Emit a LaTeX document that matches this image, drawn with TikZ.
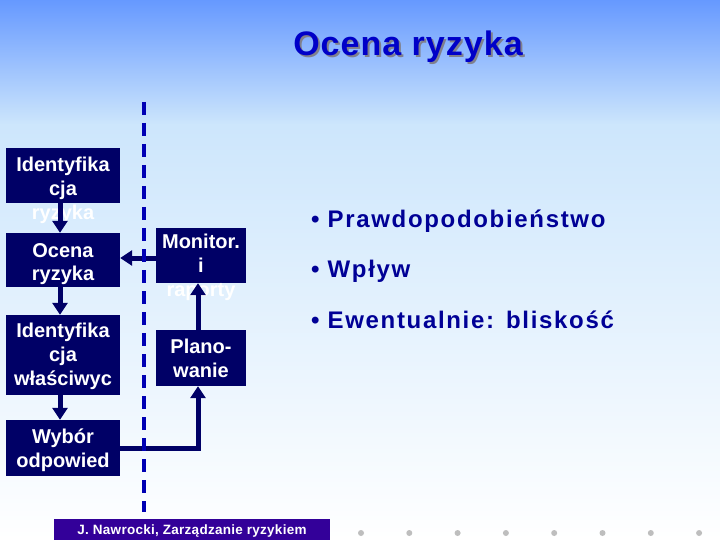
\documentclass[tikz,border=0pt]{standalone}
\usepackage{fontspec}
\setmainfont{Liberation Sans}
\newfontfamily\spacedfont[LetterSpace=7]{Liberation Sans}
\newfontfamily\titlefont[LetterSpace=3]{Liberation Sans}
\newfontfamily\footfont[LetterSpace=2]{Liberation Sans}
\usetikzlibrary{arrows.meta}
\definecolor{navybox}{RGB}{0,0,102}
\definecolor{dashblue}{RGB}{0,0,180}
\definecolor{titleblue}{RGB}{0,0,200}
\definecolor{bullblue}{RGB}{0,0,150}
\definecolor{footcol}{RGB}{51,0,153}
\definecolor{bgtop}{RGB}{102,153,255}
\definecolor{bgmid}{RGB}{205,230,252}
\definecolor{dotgray}{RGB}{190,190,190}
\definecolor{shadowgray}{RGB}{128,128,140}
\begin{document}
\begin{tikzpicture}[x=1pt,y=-1pt,
  box/.style={fill=navybox, draw=none, inner sep=0pt},
  boxtext/.style={text=white, font=\bfseries\fontsize{20}{24}\selectfont, align=center, text width=#1, inner sep=0pt, anchor=base},
  boxtext/.default=114pt,
  arr/.style={draw=navybox, line width=5pt, -{Triangle[length=12pt,width=15pt]}},
  dashline/.style={draw=dashblue, line width=4pt, dash pattern=on 13pt off 8pt}]
\useasboundingbox (0,0) rectangle (720,540);
% background
\shade[top color=bgtop, bottom color=bgmid] (0,0) rectangle (720,125);
\shade[top color=bgmid, bottom color=white] (0,125) rectangle (720,540);
% title (with drop shadow)
\node[font=\titlefont\bfseries\fontsize{34}{40}\selectfont, text=titleblue, anchor=base, inner sep=0pt] (title) at (408,56)
  {\makebox[0pt][l]{\kern2pt\raisebox{-2pt}{\color{shadowgray}Ocena ryzyka}}Ocena ryzyka};
% boxes
\node[box, minimum width=114pt, minimum height=55pt] (b1) at (63,175.5) {};
\node[box, minimum width=114pt, minimum height=54pt] (b2) at (63,260) {};
\node[box, minimum width=114pt, minimum height=80pt] (b3) at (63,355) {};
\node[box, minimum width=114pt, minimum height=56pt] (b4) at (63,448) {};
\node[box, minimum width=90pt, minimum height=55pt] (b5) at (201,255.5) {};
\node[box, minimum width=90pt, minimum height=56pt] (b6) at (201,358) {};
% box texts
\node[boxtext] (t1) at (63,172) {Identyfika\\cja\\ryzyka};
\node[boxtext] (t2) at (63,257) {Ocena\\ryzyka};
\node[boxtext] (t3) at (63,337) {Identyfika\\cja\\właściwyc};
\node[boxtext] (t4) at (63,443) {Wybór\\odpowied};
\node[boxtext=90pt] (t5) at (201,248) {Monitor.\\i\\raporty};
\node[boxtext=90pt] (t6) at (201,353) {Plano-\\wanie};
% arrows
\draw[arr] ([xshift=-3pt]b1.south) -- ([xshift=-3pt]b2.north);
\draw[arr] ([xshift=-3pt]b2.south) -- ([xshift=-3pt]b3.north);
\draw[arr] ([xshift=-3pt]b3.south) -- ([xshift=-3pt]b4.north);
\draw[arr] (b4.east) -| ([xshift=-3pt]b6.south);
\draw[arr] ([xshift=-3pt]b6.north) -- ([xshift=-3pt]b5.south);
\draw[arr] ([yshift=-2.5pt]b5.west) -- ([yshift=-2.5pt]b5.west -| b2.east);
% dashed divider
\coordinate (dtop) at (144,102);
\coordinate (dbot) at (144,512);
\draw[dashline] (dtop) -- (dbot);
% bullets
\node[font=\spacedfont\bfseries\fontsize{24}{50.5}\selectfont, text=bullblue, anchor=base west, align=left, text width=360pt, inner sep=0pt] (bul) at (311,227) {•\ Prawdopodobieństwo\\•\ Wpływ\\•\ Ewentualnie: bliskość};
% footer
\fill[footcol] (54,519) rectangle (330,540);
\node[font=\footfont\bfseries\fontsize{13.5}{16}\selectfont, text=white, anchor=base, inner sep=0pt] (foot) at (192,534) {J. Nawrocki, Zarządzanie ryzykiem};
\foreach \i in {0,...,7} \fill[dotgray] (361+48.3*\i,533) circle (3pt);
\end{tikzpicture}
\end{document}
